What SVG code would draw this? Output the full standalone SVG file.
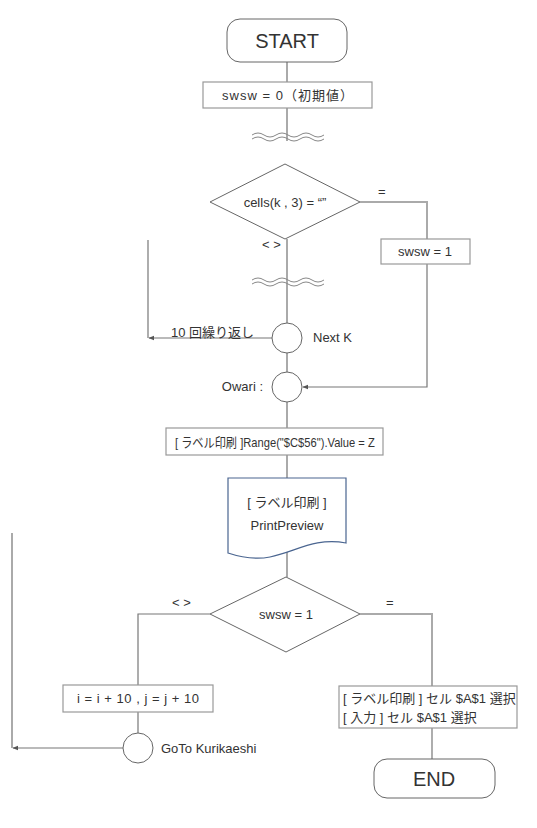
<svg xmlns="http://www.w3.org/2000/svg" width="537" height="828" viewBox="0 0 537 828">
<defs>
<style>
.t{font-family:"Liberation Sans","Noto Sans CJK JP",sans-serif;font-size:13px;fill:#333}
.big{font-size:20px}
.box{fill:#fff;stroke:#999;stroke-width:1.2}
.shape{fill:#fff;stroke:#666;stroke-width:1}
.thick{fill:none;stroke:#aaa;stroke-width:2}
.thin{fill:none;stroke:#777;stroke-width:1.2}
.wave{fill:none;stroke:#888;stroke-width:1}
</style>
<marker id="ah" viewBox="0 0 10 10" refX="9" refY="5" markerWidth="6" markerHeight="6" orient="auto" markerUnits="userSpaceOnUse">
<path d="M0,1 L10,5 L0,9 Z" fill="#555"/>
</marker>
</defs>
<rect width="537" height="828" fill="#fff"/>
<g id="connectors">
<path class="thick" d="M287,62 V82"/>
<path class="thick" d="M287,108 V141"/>
<path class="thick" d="M287,239 V323"/>
<path class="thick" d="M360,202 H427 V239"/>
<path class="thin" d="M427,264 V387 H303" marker-end="url(#ah)"/>
<path class="thin" d="M272,338 H149" marker-end="url(#ah)"/>
<path class="thin" d="M148,240 V338" stroke-width="2"/>
<path class="thick" d="M287,352 V372"/>
<path class="thick" d="M287,402 V428"/>
<path class="thick" d="M287,455 V478"/>
<path class="thick" d="M287,551 V577"/>
<path class="thin" d="M210,614 H138 V685"/>
<path class="thick" d="M360,614 H432 V686"/>
<path class="thin" d="M138,712 V733"/>
<path class="thin" d="M123,748 H13" marker-end="url(#ah)"/>
<path class="thick" d="M12,533 V748"/>
<path class="thin" d="M432,728 V759"/>
<path class="wave" d="M252,135 Q258,131 264,135 T276,135 T288,135 T300,135 T312,135 T324,135"/>
<path class="wave" d="M252,139 Q258,135 264,139 T276,139 T288,139 T300,139 T312,139 T324,139"/>
<path class="wave" d="M252,280 Q258,276 264,280 T276,280 T288,280 T300,280 T312,280 T324,280"/>
<path class="wave" d="M252,284 Q258,280 264,284 T276,284 T288,284 T300,284 T312,284 T324,284"/>
</g>
<g id="start">
<rect class="shape" x="227" y="19" width="120" height="43" rx="13"/>
<text class="t big" x="287" y="48" text-anchor="middle">START</text>
</g>
<g id="init">
<rect class="box" x="203" y="82" width="169" height="26"/>
<text class="t" x="222" y="100" textLength="131" lengthAdjust="spacing">swsw = 0（初期値）</text>
</g>
<g id="dec1">
<path class="shape" d="M210,202 L285,164 L360,202 L285,239 Z"/>
<text class="t" x="285" y="207" text-anchor="middle">cells(k , 3) = “”</text>
<text class="t" x="378" y="196">=</text>
<text class="t" x="262" y="249">&lt; &gt;</text>
</g>
<g id="set1">
<rect class="box" x="381" y="239" width="89" height="25"/>
<text class="t" x="425" y="256" text-anchor="middle">swsw = 1</text>
</g>
<g id="nextk">
<circle class="shape" cx="287" cy="338" r="15"/>
<text class="t" x="313" y="342">Next K</text>
<text class="t" x="171" y="337">10 回繰り返し</text>
</g>
<g id="owari">
<circle class="shape" cx="287" cy="387" r="15"/>
<text class="t" x="263" y="391" text-anchor="end">Owari :</text>
</g>
<g id="range">
<rect class="box" x="166" y="428" width="217" height="27"/>
<text class="t" x="0" y="0" transform="translate(175,447) scale(0.86,1)">[ ラベル印刷 ]Range("$C$56").Value = Z</text>
</g>
<g id="preview">
<path fill="#fff" stroke="#4a6590" stroke-width="1.2" d="M228,478 H346 V543 C315,537 295,552 270,557 C255,560 240,557 228,553 Z"/>
<text class="t" x="287" y="507" text-anchor="middle">[ ラベル印刷 ]</text>
<text class="t" x="287" y="530" text-anchor="middle">PrintPreview</text>
</g>
<g id="dec2">
<path class="shape" d="M210,614 L286,577 L360,614 L286,652 Z"/>
<text class="t" x="286" y="619" text-anchor="middle">swsw = 1</text>
<text class="t" x="172" y="607">&lt; &gt;</text>
<text class="t" x="386" y="607">=</text>
</g>
<g id="incr">
<rect class="box" x="63" y="685" width="150" height="27"/>
<text class="t" x="77" y="703" textLength="122" lengthAdjust="spacing">i = i + 10 ,  j = j + 10</text>
</g>
<g id="gotok">
<circle class="shape" cx="138" cy="748" r="15"/>
<text class="t" x="161" y="753">GoTo Kurikaeshi</text>
</g>
<g id="select">
<rect class="box" x="339" y="686" width="178" height="42"/>
<text class="t" x="343" y="703">[ ラベル印刷 ] セル $A$1 選択</text>
<text class="t" x="343" y="722">[ 入力 ] セル $A$1 選択</text>
</g>
<g id="end">
<rect class="shape" x="374" y="759" width="121" height="39" rx="13"/>
<text class="t big" x="434" y="786" text-anchor="middle">END</text>
</g>
</svg>
